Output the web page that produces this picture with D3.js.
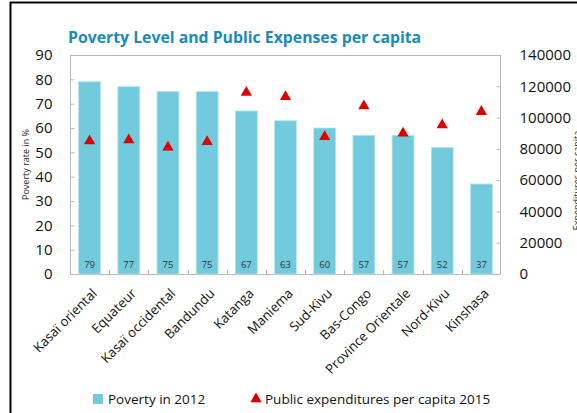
<!DOCTYPE html>
<html>
<head>
<meta charset="utf-8">
<script src="https://cdn.jsdelivr.net/npm/d3@7"></script>
<style>
  html, body { margin: 0; padding: 0; background: #fff; overflow: hidden; }
  svg { display: block; font-family: "Open Sans", "Noto Sans", sans-serif; }
</style>
</head>
<body>
<svg id="chart" width="577" height="413"></svg>
<script>
// Provinces of the DRC
const provinces = ["Kasaï oriental", "Equateur", "Kasaï occidental", "Bandundu", "Katanga",
  "Maniema", "Sud-Kivu", "Bas-Congo", "Province Orientale", "Nord-Kivu", "Kinshasa"];
// Poverty rate in 2012 (%)
const poverty2012 = [79, 77, 75, 75, 67, 63, 60, 57, 57, 52, 37];
// Public expenditures per capita in 2015
const expenditures2015 = [85000, 85700, 81000, 84600, 116000, 113300, 87800, 107400, 90000, 95300, 103800];
// Axis ticks
const povertyTicks = [0, 10, 20, 30, 40, 50, 60, 70, 80, 90];
const expenditureTicks = [0, 20000, 40000, 60000, 80000, 100000, 120000, 140000];

const svg = d3.select("#chart");
const W = 577, H = 413;
const m = { left: 70, right: 501, top: 55, bottom: 274 };

const barColor = "#72cbdd";
const markColor = "#e00000";
const axisColor = "#b8b8b8";

// Outer frame (left and top edges)
svg.append("line").attr("x1", 10.5).attr("x2", 10.5).attr("y1", 2).attr("y2", H).attr("stroke", "#000").attr("stroke-width", 2);
svg.append("line").attr("x1", 10).attr("x2", W).attr("y1", 2.5).attr("y2", 2.5).attr("stroke", "#000").attr("stroke-width", 2);

const x = d3.scaleBand().domain(provinces).range([m.left, m.right]).paddingInner(0).paddingOuter(0);
const yL = d3.scaleLinear().domain([0, 90]).range([m.bottom, m.top]);
const yR = d3.scaleLinear().domain([0, 140000]).range([m.bottom, m.top]);

// Title
svg.append("text")
  .attr("x", 68).attr("y", 43)
  .attr("font-size", 15.8).attr("font-weight", 700)
  .attr("fill", "#1a8bbb")
  .text("Poverty Level and Public Expenses per capita");

// Plot frame
svg.append("rect")
  .attr("x", m.left + 0.5).attr("y", m.top + 0.5)
  .attr("width", m.right - m.left - 1).attr("height", m.bottom - m.top)
  .attr("fill", "none").attr("stroke", axisColor).attr("stroke-width", 1);

// Left axis
const leftAxis = svg.append("g").attr("transform", `translate(${m.left + 0.5},0)`)
  .call(d3.axisLeft(yL).tickValues(povertyTicks).tickSize(-4).tickPadding(18));
leftAxis.select(".domain").remove();
leftAxis.selectAll(".tick line").attr("stroke", axisColor);
leftAxis.selectAll(".tick text").attr("font-size", 15).attr("fill", "#111").attr("font-family", "Open Sans, sans-serif");

// Right axis
const rightAxis = svg.append("g").attr("transform", `translate(${m.right - 0.5},0)`)
  .call(d3.axisRight(yR).tickValues(expenditureTicks).tickSize(-4).tickPadding(19).tickFormat(d3.format("d")));
rightAxis.select(".domain").remove();
rightAxis.selectAll(".tick line").attr("stroke", axisColor);
rightAxis.selectAll(".tick text").attr("font-size", 15).attr("fill", "#111").attr("font-family", "Open Sans, sans-serif");

// Category separators on the bottom axis
svg.append("g").selectAll("line")
  .data(provinces.slice(1))
  .join("line")
  .attr("x1", d => Math.round(x(d)) + 0.5).attr("x2", d => Math.round(x(d)) + 0.5)
  .attr("y1", m.bottom).attr("y2", m.bottom - 4)
  .attr("stroke", axisColor);

// Bars
const barW = x.bandwidth() * 0.56;
svg.append("g").selectAll("rect")
  .data(provinces)
  .join("rect")
  .attr("x", (d) => x(d) + (x.bandwidth() - barW) / 2)
  .attr("y", (d, i) => yL(poverty2012[i]))
  .attr("width", barW)
  .attr("height", (d, i) => yL(0) - yL(poverty2012[i]))
  .attr("fill", barColor)
  .attr("stroke", "#b9e6ee").attr("stroke-width", 0.8);

// Value labels inside the bars
svg.append("g").selectAll("text")
  .data(provinces)
  .join("text")
  .attr("x", d => x(d) + x.bandwidth() / 2)
  .attr("y", m.bottom - 6)
  .attr("text-anchor", "middle")
  .attr("font-size", 9.5)
  .attr("fill", "#333")
  .text((d, i) => poverty2012[i]);

// Expenditure markers
const tri = d3.symbol().type(d3.symbolTriangle).size(55);
svg.append("g").selectAll("path")
  .data(provinces)
  .join("path")
  .attr("transform", (d, i) => `translate(${x(d) + x.bandwidth() / 2},${yR(expenditures2015[i])})`)
  .attr("d", tri)
  .attr("fill", markColor);

// Category labels
svg.append("g").selectAll("text")
  .data(provinces)
  .join("text")
  .attr("transform", d => `translate(${x(d) + x.bandwidth() / 2 + 5},${m.bottom + 17}) rotate(-45)`)
  .attr("text-anchor", "end")
  .attr("dy", "0.35em")
  .attr("font-size", 13.2)
  .attr("fill", "#111")
  .text(d => d);

// Axis titles
svg.append("text")
  .attr("transform", `translate(29,${(m.top + m.bottom) / 2}) rotate(-90)`)
  .attr("text-anchor", "middle")
  .attr("font-size", 9)
  .attr("fill", "#222")
  .text("Poverty rate in %");

svg.append("text")
  .attr("transform", `translate(580,${(m.top + m.bottom) / 2 + 16}) rotate(-90)`)
  .attr("text-anchor", "middle")
  .attr("font-size", 9)
  .attr("fill", "#222")
  .text("Expenditures per capita");

// Legend
const lg = svg.append("g");
lg.append("rect").attr("x", 93).attr("y", 394).attr("width", 10).attr("height", 10).attr("fill", barColor);
lg.append("text").attr("x", 108).attr("y", 404).attr("font-size", 13.5).attr("fill", "#111").text("Poverty in 2012");
lg.append("path").attr("transform", "translate(256,399)").attr("d", tri).attr("fill", markColor);
lg.append("text").attr("x", 265).attr("y", 404).attr("font-size", 13.5).attr("fill", "#111").text("Public expenditures per capita 2015");
</script>
</body>
</html>
